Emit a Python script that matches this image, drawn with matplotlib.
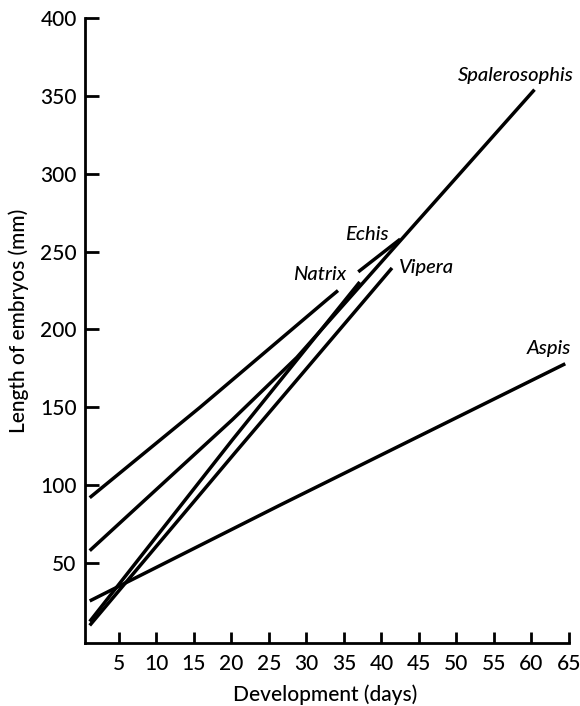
import numpy as np
import matplotlib
matplotlib.use("Agg")
import matplotlib.pyplot as plt

plt.rcParams['font.family'] = ['Lato', 'DejaVu Sans']

# ---- data ----
echis_days = [1.1, 15.8, 32.7, 34.2, np.nan, 36.9, 42.5]
echis_len = [92, 150, 219, 225, np.nan, 237, 258]

spal_days = [1.1, 15.8, 20.1, 28.7, 44.9, 60.4]
spal_len = [58, 123, 142, 182, 270, 354]

natrix_days = [1.1, 20.1, 37.1]
natrix_len = [12.5, 129, 230.5]

vipera_days = [1.1, 20.5, 41.4]
vipera_len = [10, 121, 239.5]

aspis_days = [1.1, 26.5, 64.5]
aspis_len = [25.7, 87.3, 178]

label_names = ["Spalerosophis", "Echis", "Natrix", "Vipera", "Aspis"]
label_days = [57.9, 38.0, 31.7, 46.0, 62.3]
label_len = [363, 261, 235, 240, 188]

x_ticks = [5, 10, 15, 20, 25, 30, 35, 40, 45, 50, 55, 60, 65]
y_ticks = [50, 100, 150, 200, 250, 300, 350, 400]

# ---- figure ----
fig = plt.figure(figsize=(5.8, 7.06), dpi=100)
ax = fig.add_axes([85 / 580, 63 / 706, 484 / 580, 625 / 706])

lw = 2.5
for d, v in [(echis_days, echis_len), (spal_days, spal_len),
             (natrix_days, natrix_len), (vipera_days, vipera_len),
             (aspis_days, aspis_len)]:
    ax.plot(d, v, color='black', lw=lw, solid_capstyle='butt')

for name, d, v in zip(label_names, label_days, label_len):
    ax.text(d, v, name, fontsize=14.5, fontstyle='italic', ha='center',
            va='center', color='black', fontweight='medium')

ax.set_xlim(0.47, 65)
ax.set_ylim(-1.3, 400)
ax.set_xticks(x_ticks)
ax.set_yticks(y_ticks)
ax.tick_params(axis='both', direction='in', colors='black', labelsize=15,
               width=2)
ax.tick_params(axis='y', length=10, pad=6)
ax.tick_params(axis='x', length=8, pad=8)
for lab in ax.get_xticklabels() + ax.get_yticklabels():
    lab.set_fontweight('medium')

for s in ['top', 'right']:
    ax.spines[s].set_visible(False)
for s in ['left', 'bottom']:
    ax.spines[s].set_linewidth(2)
    ax.spines[s].set_color('black')

ax.set_xlabel("Development (days)", fontsize=15, fontweight='medium')
ax.xaxis.set_label_coords(0.496, -0.066)
ax.set_ylabel("Length of embryos (mm)", fontsize=15, fontweight='medium')
ax.yaxis.set_label_coords(-0.116, 0.515)

fig.savefig("out.png", dpi=100)
